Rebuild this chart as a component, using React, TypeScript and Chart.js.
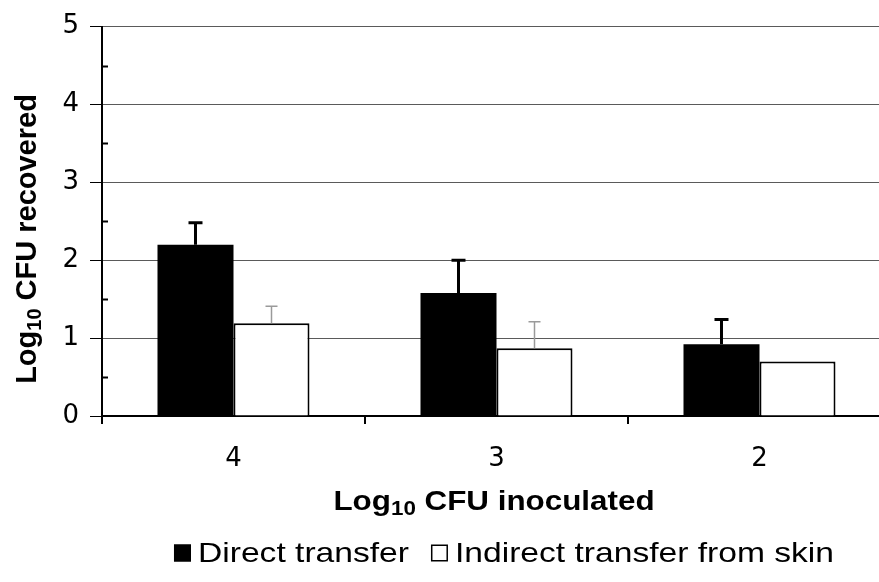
import React, { useEffect, useRef } from "react";
import { Chart, registerables } from "chart.js";

Chart.register(...registerables);

// ---- data ----
const categories = ["4", "3", "2"];
const seriesNames = ["Direct transfer", "Indirect transfer from skin"];
const directValues = [2.2, 1.58, 0.92];
const directErrors = [0.28, 0.42, 0.32];
const indirectValues = [1.19, 0.87, 0.7];
const indirectErrors = [0.22, 0.34, 0];
const yTicks = [0, 1, 2, 3, 4, 5];
const yMinorTicks = [0.5, 1.5, 2.5, 3.5, 4.5];
const xTitleParts = ["Log", "10", " CFU inoculated"];
const yTitleParts = ["Log", "10", " CFU recovered"];

const FONT = "'Liberation Sans', Arial, Helvetica, sans-serif";
const TICK_FONT = "'DejaVu Sans', 'Liberation Sans', Arial, sans-serif";
const ERRORS = [directErrors, indirectErrors];
const ERR_STYLE = [
  { color: "#000", width: 3, cap: 7 },
  { color: "#9a9a9a", width: 1.5, cap: 6 },
];

function drawSubText(ctx: CanvasRenderingContext2D, parts: string[], size: number, subSize: number) {
  const widths = parts.map((t, i) => {
    ctx.font = `bold ${i === 1 ? subSize : size}px ${FONT}`;
    return ctx.measureText(t).width;
  });
  const total = widths.reduce((a, b) => a + b, 0);
  let x = -total / 2;
  const base = size * 0.36;
  ctx.fillStyle = "#000";
  ctx.textBaseline = "alphabetic";
  ctx.textAlign = "left";
  parts.forEach((t, i) => {
    ctx.font = `bold ${i === 1 ? subSize : size}px ${FONT}`;
    ctx.fillText(t, x, base + (i === 1 ? size * 0.17 : 0));
    x += widths[i];
  });
}

const decorPlugin = {
  id: "decor",
  afterDatasetsDraw(chart: any) {
    const ctx: CanvasRenderingContext2D = chart.ctx;
    const y = chart.scales.y;
    chart.data.datasets.forEach((ds: any, di: number) => {
      const meta = chart.getDatasetMeta(di);
      const st = ERR_STYLE[di];
      meta.data.forEach((bar: any, i: number) => {
        const e = ERRORS[di][i];
        if (!e) return;
        const top = y.getPixelForValue(ds.data[i] + e);
        ctx.save();
        ctx.strokeStyle = st.color;
        ctx.lineWidth = st.width;
        ctx.beginPath();
        ctx.moveTo(bar.x, bar.y);
        ctx.lineTo(bar.x, top);
        ctx.moveTo(bar.x - st.cap, top);
        ctx.lineTo(bar.x + st.cap, top);
        ctx.stroke();
        ctx.restore();
      });
    });
  },
  afterDraw(chart: any) {
    const ctx: CanvasRenderingContext2D = chart.ctx;
    const y = chart.scales.y;
    const area = chart.chartArea;
    ctx.save();
    ctx.strokeStyle = "#000";
    ctx.lineWidth = 2;
    yMinorTicks.forEach((v) => {
      const py = Math.round(y.getPixelForValue(v)) + 0.5;
      ctx.beginPath();
      ctx.moveTo(area.left, py);
      ctx.lineTo(area.left + 6, py);
      ctx.stroke();
    });
    ctx.restore();

    // x title
    ctx.save();
    ctx.translate(494, 500);
    ctx.scale(1.12, 1);
    drawSubText(ctx, xTitleParts, 28, 20);
    ctx.restore();

    // y title
    ctx.save();
    ctx.translate(26, 239);
    ctx.rotate(-Math.PI / 2);
    drawSubText(ctx, yTitleParts, 29, 20);
    ctx.restore();

    // legend
    ctx.save();
    const sx = 1.2;
    const size = 28;
    const box = 17;
    const gap = 7;
    const itemGap = 22;
    ctx.font = `${size}px ${FONT}`;
    const tw = chart.data.datasets.map((d: any) => ctx.measureText(d.label).width * sx);
    const total = tw.reduce((a: number, b: number) => a + b, 0) + 2 * (box + gap) + itemGap;
    let x = 504 - total / 2;
    const cy = 553;
    chart.data.datasets.forEach((d: any, i: number) => {
      ctx.fillStyle = d.backgroundColor;
      ctx.fillRect(x, cy - box / 2, box, box);
      ctx.strokeStyle = "#000";
      ctx.lineWidth = 1.5;
      ctx.strokeRect(x + 0.75, cy - box / 2 + 0.75, box - 1.5, box - 1.5);
      x += box + gap;
      ctx.save();
      ctx.translate(x, cy);
      ctx.scale(sx, 1);
      ctx.fillStyle = "#000";
      ctx.textBaseline = "middle";
      ctx.textAlign = "left";
      ctx.font = `${size}px ${FONT}`;
      ctx.fillText(d.label, 0, 1);
      ctx.restore();
      x += tw[i] + itemGap;
    });
    ctx.restore();
  },
};

export default function App() {
  const ref = useRef<HTMLCanvasElement | null>(null);
  useEffect(() => {
    if (!ref.current) return;
    const chart = new Chart(ref.current, {
      type: "bar",
      data: {
        labels: categories,
        datasets: [
          {
            label: seriesNames[0],
            data: directValues,
            backgroundColor: "#000",
            borderColor: "#000",
            borderWidth: 0,
            categoryPercentage: 0.578,
            barPercentage: 1,
          },
          {
            label: seriesNames[1],
            data: indirectValues,
            backgroundColor: "#fff",
            borderColor: "#000",
            borderWidth: 2,
            categoryPercentage: 0.578,
            barPercentage: 1,
          },
        ],
      },
      options: {
        responsive: false,
        animation: false,
        devicePixelRatio: 1,
        layout: { padding: { left: 0, right: 4, top: 25, bottom: 0 } },
        plugins: { legend: { display: false }, tooltip: { enabled: false }, title: { display: false } },
        scales: {
          x: {
            afterFit: (s: any) => {
              s.height = 166;
            },
            grid: {
              offset: true,
              drawOnChartArea: false,
              tickLength: 8,
              tickColor: "#000",
              lineWidth: 2,
            },
            border: { display: true, color: "#000", width: 2 },
            ticks: { color: "#000", padding: 20, font: { family: TICK_FONT, size: 26 } },
          },
          y: {
            min: 0,
            max: 5,
            afterFit: (s: any) => {
              s.width = 102;
            },
            afterBuildTicks: (s: any) => {
              s.ticks = yTicks.map((v) => ({ value: v }));
            },
            grid: { color: "#5a5a5a", lineWidth: 1, tickLength: 12, tickColor: "#000" },
            border: { display: true, color: "#000", width: 2 },
            ticks: { color: "#000", padding: 11, font: { family: TICK_FONT, size: 26 } },
          },
        },
      },
      plugins: [decorPlugin],
    });
    return () => chart.destroy();
  }, []);
  return (
    <div
      style={{
        position: "fixed",
        left: 0,
        top: 0,
        width: 879,
        height: 582,
        overflow: "hidden",
        background: "#fff",
      }}
    >
      <canvas ref={ref} width={895} height={582} style={{ width: 895, height: 582, display: "block" }} />
    </div>
  );
}
